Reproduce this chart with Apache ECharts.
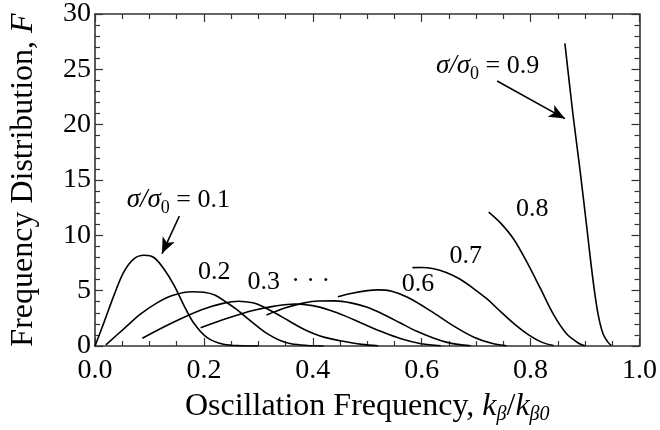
<!DOCTYPE html>
<html>
<head>
<meta charset="utf-8">
<script src="https://cdn.jsdelivr.net/npm/echarts@6/dist/echarts.min.js"></script>
<style>
  html, body { margin: 0; padding: 0; background: #fff; }
  #myChart { width: 660px; height: 430px; }
</style>
</head>
<body>
<div id="myChart"></div>
<script>
// values: k = k_beta/k_beta0, F = frequency distribution
var k01 = [0, 0.017, 0.035, 0.053, 0.072, 0.09, 0.108, 0.126, 0.145, 0.163, 0.181, 0.206, 0.236, 0.27, 0.3]
var F01 = [0, 2.2, 4.6, 6.7, 7.9, 8.2, 8.0, 7.0, 5.5, 3.7, 2.1, 0.75, 0.15, 0.02, 0]
var k02 = [0.02, 0.054, 0.084, 0.114, 0.145, 0.178, 0.2, 0.22, 0.24, 0.26, 0.28, 0.3, 0.32, 0.34, 0.36, 0.39, 0.42]
var F02 = [0.1, 1.6, 2.9, 3.9, 4.6, 4.9, 4.85, 4.6, 4.0, 3.3, 2.5, 1.7, 1.0, 0.5, 0.2, 0.05, 0]
var k03 = [0.087, 0.142, 0.197, 0.235, 0.264, 0.29, 0.307, 0.33, 0.355, 0.38, 0.4, 0.42, 0.453, 0.49, 0.52]
var F03 = [0.7, 2.1, 3.3, 3.85, 4.05, 3.9, 3.6, 3.0, 2.3, 1.6, 1.15, 0.8, 0.45, 0.15, 0.02]
var k04 = [0.194, 0.246, 0.29, 0.33, 0.367, 0.4, 0.43, 0.46, 0.49, 0.526, 0.562, 0.599, 0.635]
var F04 = [1.65, 2.55, 3.2, 3.6, 3.8, 3.65, 3.25, 2.7, 2.05, 1.3, 0.65, 0.2, 0.02]
var k05 = [0.315, 0.35, 0.38, 0.41, 0.44, 0.47, 0.5, 0.53, 0.56, 0.59, 0.62, 0.645, 0.666, 0.69]
var F05 = [2.8, 3.45, 3.85, 4.07, 4.08, 3.9, 3.5, 2.85, 2.1, 1.35, 0.75, 0.35, 0.15, 0.02]
var k06 = [0.446, 0.47, 0.5, 0.52, 0.545, 0.574, 0.617, 0.659, 0.696, 0.732, 0.756]
var F06 = [4.45, 4.75, 5.0, 5.07, 4.95, 4.4, 3.15, 1.8, 0.8, 0.2, 0.02]
var k07 = [0.583, 0.6, 0.62, 0.645, 0.67, 0.695, 0.72, 0.745, 0.77, 0.795, 0.82, 0.842]
var F07 = [7.08, 7.1, 7.0, 6.65, 6.05, 5.2, 4.25, 3.1, 2.0, 1.05, 0.35, 0.05]
var k08 = [0.723, 0.745, 0.769, 0.793, 0.818, 0.842, 0.866, 0.89, 0.9]
var F08 = [12.1, 11.1, 9.65, 7.6, 5.2, 2.85, 1.1, 0.2, 0.02]
var k09 = [0.863, 0.878, 0.891, 0.903, 0.915, 0.924, 0.933, 0.942, 0.948]
var F09 = [27.35, 20.85, 15.8, 10.8, 5.8, 2.85, 1.1, 0.35, 0.05]

var sigmas = ['0.1', '0.2', '0.3', '0.4', '0.5', '0.6', '0.7', '0.8', '0.9']
var kLists = [k01, k02, k03, k04, k05, k06, k07, k08, k09]
var FLists = [F01, F02, F03, F04, F05, F06, F07, F08, F09]

// curve labels [k, F, text]
var notes = [
  [0.153, 13.2, 'big1'],
  [0.219, 6.7, '0.2'],
  [0.31, 5.8, '0.3'],
  [0.396, 5.9, '· · ·'],
  [0.593, 5.55, '0.6'],
  [0.681, 8.1, '0.7'],
  [0.803, 12.4, '0.8'],
  [0.721, 25.3, 'big9']
]
// arrows [from, to]
var arrows = [
  [[0.155, 11.75], [0.123, 8.35]],
  [[0.7385, 23.95], [0.863, 20.55]]
]

var serif = 'Liberation Serif'
var myChart = echarts.init(document.getElementById('myChart'))

var series = []
for (var i = 0; i < sigmas.length; i++) {
  var data = []
  for (var j = 0; j < kLists[i].length; j++) {
    data.push([kLists[i][j], FLists[i][j]])
  }
  series.push({
    name: sigmas[i],
    type: 'line',
    data: data,
    smooth: 0.35,
    showSymbol: false,
    lineStyle: { color: '#000', width: 1.6 },
    z: 3
  })
}

series.push({
  name: 'notes',
  type: 'scatter',
  symbolSize: 0,
  itemStyle: { opacity: 1 },
  data: notes,
  label: {
    show: true,
    position: 'inside',
    fontFamily: serif,
    fontSize: 26,
    color: '#000',
    formatter: function (p) {
      var t = p.data[2]
      if (t === 'big1') return '{i|σ/σ}{s|0}{n| = 0.1}'
      if (t === 'big9') return '{i|σ/σ}{s|0}{n| = 0.9}'
      return '{n|' + t + '}'
    },
    rich: {
      i: { fontFamily: serif, fontStyle: 'italic', fontSize: 27, color: '#000', lineHeight: 34 },
      s: { fontFamily: serif, fontSize: 18, color: '#000', verticalAlign: 'bottom', lineHeight: 34 },
      n: { fontFamily: serif, fontSize: 26, color: '#000', lineHeight: 34 }
    }
  },
  markLine: {
    silent: true,
    symbol: ['none', 'arrow'],
    symbolSize: [10, 16],
    label: { show: false },
    lineStyle: { color: '#000', width: 1.6, type: 'solid', opacity: 1 },
    data: arrows.map(function (a) {
      return [{ coord: a[0] }, { coord: a[1] }]
    })
  }
})

var tickStyle = { color: '#333', width: 1.2 }
var baseX = {
  type: 'value', min: 0, max: 1, interval: 0.2,
  axisLine: { show: true, onZero: false, lineStyle: { color: '#333', width: 1.6 } },
  axisTick: { show: true, inside: true, length: 8, lineStyle: tickStyle },
  minorTick: { show: true, splitNumber: 4, length: 5, lineStyle: tickStyle },
  splitLine: { show: false }
}
var baseY = {
  type: 'value', min: 0, max: 30, interval: 5,
  axisLine: { show: true, onZero: false, lineStyle: { color: '#333', width: 1.6 } },
  axisTick: { show: true, inside: true, length: 8, lineStyle: tickStyle },
  minorTick: { show: true, splitNumber: 5, length: 5, lineStyle: tickStyle },
  splitLine: { show: false }
}

myChart.setOption({
  animation: false,
  backgroundColor: '#fff',
  grid: { left: 92, right: 20, top: 10, bottom: 81 },
  xAxis: [
    Object.assign({}, baseX, {
      position: 'bottom',
      axisLabel: {
        fontFamily: serif, fontSize: 28, color: '#000', margin: 11,
        formatter: function (v) { return v.toFixed(1) }
      },
      name: '{n|Oscillation Frequency, }{i|k}{s|β}{n|/}{i|k}{s|β0}',
      nameLocation: 'middle',
      nameGap: 43,
      nameTextStyle: {
        fontFamily: serif, fontSize: 32, color: '#000',
        rich: {
          n: { fontFamily: serif, fontSize: 32, color: '#000', lineHeight: 36 },
          i: { fontFamily: serif, fontSize: 32, fontStyle: 'italic', color: '#000', lineHeight: 36 },
          s: { fontFamily: serif, fontSize: 20, fontStyle: 'italic', color: '#000', verticalAlign: 'bottom', lineHeight: 36 }
        }
      }
    }),
    Object.assign({}, baseX, { position: 'top', axisLabel: { show: false } })
  ],
  yAxis: [
    Object.assign({}, baseY, {
      position: 'left',
      axisLabel: { fontFamily: serif, fontSize: 28, color: '#000', margin: 4 },
      name: '{n|Frequency Distribution, }{i|F}',
      nameLocation: 'middle',
      nameGap: 55,
      nameTextStyle: {
        fontFamily: serif, fontSize: 32, color: '#000',
        rich: {
          n: { fontFamily: serif, fontSize: 32, color: '#000' },
          i: { fontFamily: serif, fontSize: 32, fontStyle: 'italic', color: '#000' }
        }
      }
    }),
    Object.assign({}, baseY, { position: 'right', axisLabel: { show: false } })
  ],
  series: series
})
</script>
</body>
</html>
